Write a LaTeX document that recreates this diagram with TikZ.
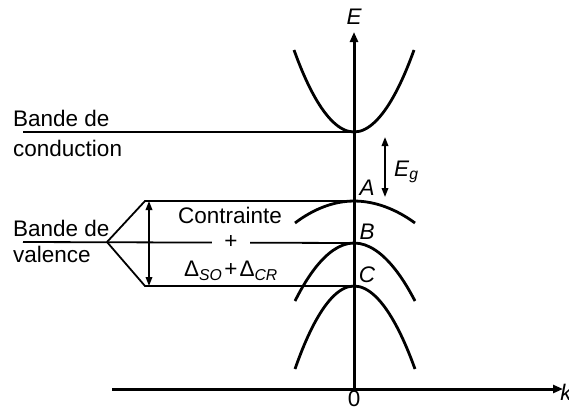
\documentclass[tikz,border=0pt]{standalone}
\usepackage{fontspec}
\setmainfont{Liberation Sans}
\usetikzlibrary{arrows.meta}
\begin{document}
\begin{tikzpicture}[x=1pt,y=-1pt,
  band/.style={line width=2.8pt},
  thin/.style={line width=1.8pt},
  axis/.style={line width=3pt},
  lbl/.style={font=\fontsize{22.5}{26}\selectfont, inner sep=0pt},
  ilbl/.style={font=\fontsize{22.5}{26}\selectfont\itshape, inner sep=0pt},
  tip/.style={-{Triangle[length=10pt,width=8pt]}},
  dtip/.style={{Triangle[length=9pt,width=6.5pt]}-{Triangle[length=9pt,width=6.5pt]}}]
\useasboundingbox (0,0) rectangle (569,410);
% coordinates
\coordinate (O) at (354,389);
\coordinate (Etop) at (354,32);
\coordinate (kleft) at (112,389);
\coordinate (kright) at (563,389);
\coordinate (Cmin) at (354,132);
\coordinate (Amax) at (354,201);
\coordinate (Bmax) at (354,243);
\coordinate (Cmax) at (354,286);
\coordinate (condL) at (23,132);
\coordinate (valL) at (23,242);
\coordinate (tip) at (107,242);
\coordinate (up) at (145,201);
\coordinate (lo) at (145,286);
% axes
\draw[axis,tip] (O) -- (Etop);
\draw[axis,tip] (kleft) -- (kright);
\node[ilbl] (E) at (354,17) {E};
\node[ilbl] (k) at (566,392) {k};
\node[lbl] (zero) at (354,399) {0};
% bands
\draw[band] (294,50) parabola bend (Cmin) (414,50);
\draw[band] (295,223) parabola bend (Amax) (415,223);
\draw[band] (295,301) parabola bend (Bmax) (415,301);
\draw[band] (295,369) parabola bend (Cmax) (415,369);
\node[ilbl] (Al) at (367,188) {A};
\node[ilbl] (Bl) at (367,232) {B};
\node[ilbl] (Cl) at (367,275) {C};
% Eg
\coordinate (eg1) at (385,137);
\coordinate (eg2) at (385,197);
\draw[thin,dtip] (eg1) -- (eg2);
\node[lbl,anchor=west] (Eg) at (394,172) {\textit{E}\textsubscript{\textit{g}}};
% conduction label
\draw[thin] (condL) -- (Cmin);
\node[lbl,anchor=west] (bc1) at (13,118) {Bande de};
\node[lbl,anchor=west] (bc2) at (13,148) {conduction};
% valence
\draw[thin] (tip) -- (up) -- (Amax);
\draw[thin] (tip) -- (lo) -- (Cmax);
\draw[thin] (valL) -- (Bmax);
\node[lbl,anchor=west] (bv1) at (13,228) {Bande de};
\node[lbl,anchor=west] (bv2) at (13,254) {valence};
\coordinate (d1) at (149,201);
\coordinate (d2) at (149,286);
\draw[thin,dtip] (d1) -- (d2);
\node[lbl] (contr) at (230,215) {Contrainte};
\node[lbl,fill=white,inner xsep=12pt,inner ysep=2pt] (plus) at (231,242) {+};
\node[lbl] (delta) at (231,271) {Δ\textsubscript{\textit{SO}}\kern2pt+\kern2ptΔ\textsubscript{\textit{CR}}};
\end{tikzpicture}
\end{document}
